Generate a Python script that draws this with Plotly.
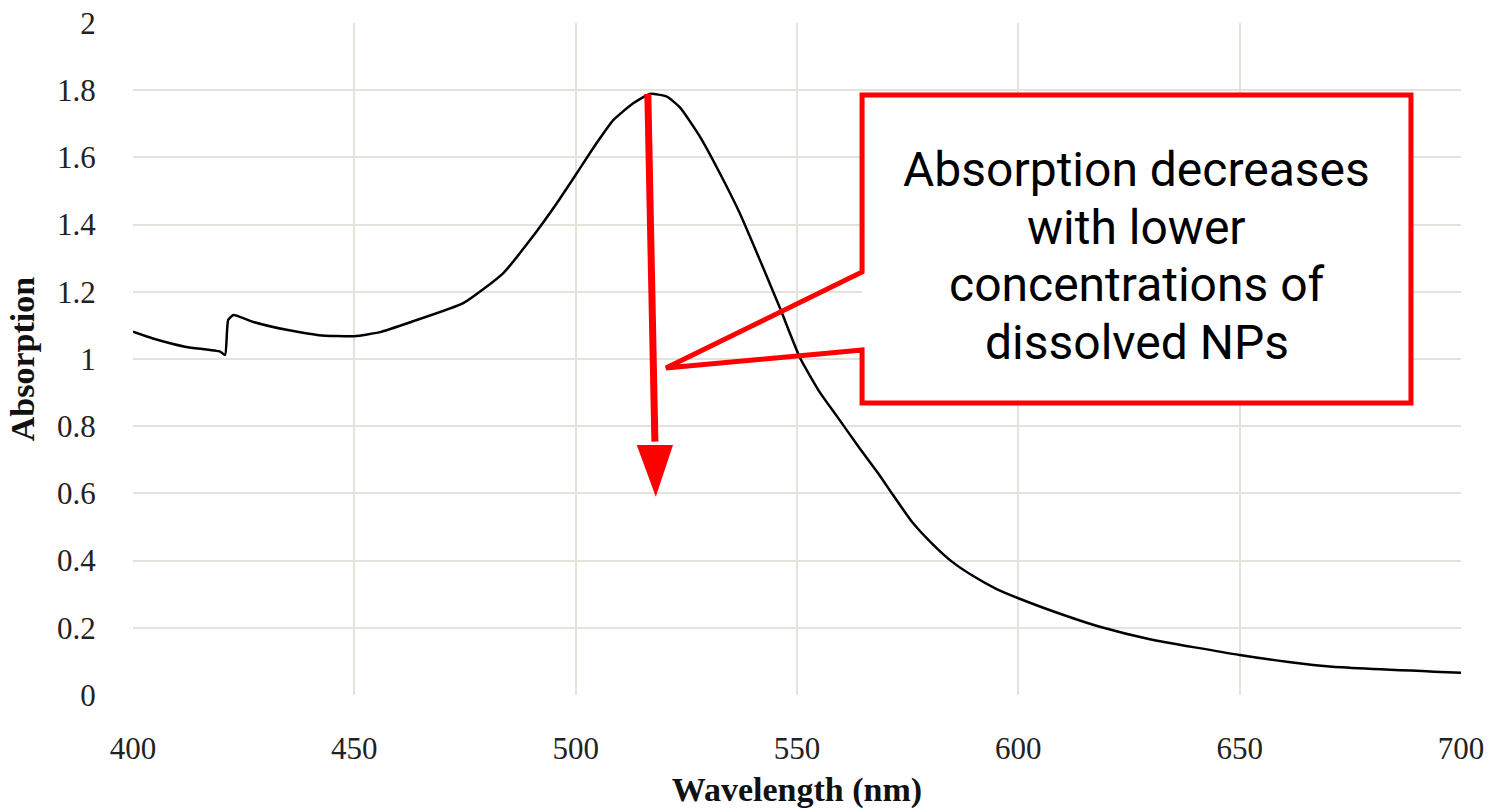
import plotly.graph_objects as go

# UV-Vis absorption spectrum of the nanoparticle dispersion
wavelength_nm = [400, 404.5, 412, 419.7, 420.8, 421.5, 422.7, 427, 435, 442, 450, 455.8,
                 463, 474.6, 483.6, 489.7, 495.7, 500.2, 504.7, 508.5, 513, 516.8, 520.6,
                 523.6, 528.1, 532.6, 537.1, 541.6, 546.2, 550.7, 555.2, 559, 564.1, 568.6,
                 571.7, 576, 580.8, 585, 589.8, 595, 600, 610.9, 618.4, 629.7, 650, 660.6,
                 671, 700]
absorption = [1.081, 1.061, 1.036, 1.022, 1.012, 1.116, 1.131, 1.111, 1.086, 1.071, 1.068, 1.080,
              1.111, 1.166, 1.255, 1.354, 1.463, 1.552, 1.642, 1.711, 1.761, 1.789, 1.781,
              1.748, 1.661, 1.552, 1.433, 1.295, 1.150, 1.003, 0.900, 0.830, 0.735, 0.655,
              0.595, 0.515, 0.447, 0.397, 0.354, 0.316, 0.288, 0.235, 0.203, 0.166, 0.119, 0.099,
              0.084, 0.066]

x_ticks = [400, 450, 500, 550, 600, 650, 700]
y_ticks = [0, 0.2, 0.4, 0.6, 0.8, 1, 1.2, 1.4, 1.6, 1.8, 2]
y_tick_text = ["0", "0.2", "0.4", "0.6", "0.8", "1", "1.2", "1.4", "1.6", "1.8", "2"]

callout_lines = ["Absorption decreases", "with lower", "concentrations of", "dissolved NPs"]

SERIF = "Times New Roman, Liberation Serif, serif"
GRID = "#e4e2da"
RED = "#ff0000"

fig = go.Figure()
fig.add_trace(go.Scatter(x=wavelength_nm, y=absorption, mode="lines",
                         line=dict(color="black", width=2.5, shape="spline", smoothing=0.5),
                         showlegend=False, hoverinfo="x+y"))

# Arrow starting at the absorption maximum and pointing downward
i_peak = max(range(len(absorption)), key=lambda i: absorption[i])
x0, y0 = wavelength_nm[i_peak] - 0.5, absorption[i_peak]
shaft_end = (517.9, 0.744)
head_half = 4.1
head_tip = (518.1, 0.590)

shapes = [
    dict(type="line", xref="x", yref="y", x0=x0, y0=y0, x1=shaft_end[0], y1=shaft_end[1] + 0.01,
         line=dict(color=RED, width=7), layer="above"),
    dict(type="path", xref="x", yref="y",
         path=f"M {shaft_end[0]-head_half},{shaft_end[1]} L {shaft_end[0]+head_half},{shaft_end[1]} "
              f"L {head_tip[0]},{head_tip[1]} Z",
         fillcolor=RED, line=dict(width=0), layer="above"),
]

# Callout box with a pointer toward the arrow
bx0, bx1, by0, by1 = 564.7, 688.7, 0.869, 1.786
notch_top, notch_bot = 1.259, 1.027
tip = (520.4, 0.973)
shapes.append(dict(type="rect", xref="x", yref="y", x0=bx0, x1=bx1, y0=by0, y1=by1,
                   fillcolor="white", line=dict(width=0), layer="above"))
shapes.append(dict(type="path", xref="x", yref="y",
                   path=(f"M {bx0},{by1} L {bx1},{by1} L {bx1},{by0} L {bx0},{by0} "
                         f"L {bx0},{notch_bot} L {tip[0]},{tip[1]} L {bx0},{notch_top} Z"),
                   line=dict(color=RED, width=5), fillcolor="rgba(0,0,0,0)", layer="above"))

annotations = []
line_y = [1.5646, 1.3920, 1.2223, 1.0497]
for txt, yy in zip(callout_lines, line_y):
    annotations.append(dict(x=(bx0 + bx1) / 2, y=yy, xref="x", yref="y", text=txt,
                            showarrow=False, xanchor="center", yanchor="middle",
                            font=dict(family="Roboto", size=48, color="black")))

fig.update_layout(
    width=1499, height=809,
    margin=dict(l=133, r=38, t=23, b=114, autoexpand=False),
    paper_bgcolor="white", plot_bgcolor="white",
    shapes=shapes, annotations=annotations,
    xaxis=dict(range=[400, 700], tickvals=x_ticks, ticktext=[str(v) for v in x_ticks],
               automargin=False,
               showgrid=True, gridcolor=GRID, gridwidth=2, zeroline=False,
               showline=False, ticks="outside", ticklen=26, tickcolor="rgba(0,0,0,0)",
               tickfont=dict(family=SERIF, size=31, color="#222"),
               title=dict(text="<b>Wavelength (nm)</b>", standoff=18,
                          font=dict(family=SERIF, size=34, color="#111"))),
    yaxis=dict(range=[0, 2], tickvals=y_ticks, ticktext=y_tick_text,
               automargin=False,
               showgrid=True, gridcolor=GRID, gridwidth=2, zeroline=False,
               showline=False, ticks="outside", ticklen=30, tickcolor="rgba(0,0,0,0)",
               tickfont=dict(family=SERIF, size=31, color="#222"),
               title=dict(text="<b>Absorption</b>", standoff=12,
                          font=dict(family=SERIF, size=34, color="#111"))),
)

fig.write_html("out.html")
